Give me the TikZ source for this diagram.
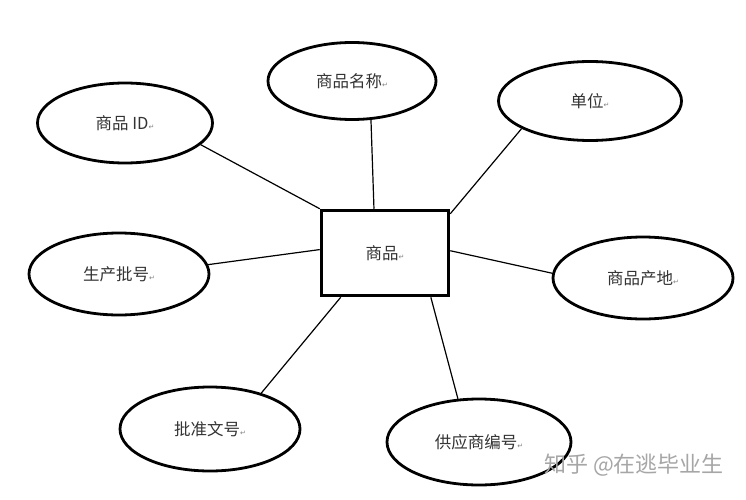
\documentclass[tikz,border=0pt]{standalone}
\usepackage{fontspec}
\setmainfont{Noto Sans CJK SC}
\newfontfamily\dejavu{DejaVu Sans}
\usetikzlibrary{shapes.geometric}
\newcommand\retmark{{\dejavu\fontsize{7}{7}\selectfont\color{gray}↵}}
\begin{document}
\begin{tikzpicture}[x=1pt,y=-1pt,
  attr/.style={ellipse,draw,line width=2.8pt,inner sep=0pt,font=\fontsize{16.5}{19}\selectfont,text=black!80},
  ent/.style={rectangle,draw,line width=3.5pt,minimum width=127pt,minimum height=85pt,inner sep=0pt,font=\fontsize{16.5}{19}\selectfont,text=black!80},
  conn/.style={line width=1.2pt}]
\useasboundingbox (0,0) rectangle (746,500);
\fill[white] (0,0) rectangle (746,500);
\node[ent] (g) at (385,253) {商品\retmark};
\node[attr,minimum width=168pt,minimum height=77pt] (name) at (352,81) {商品名称\retmark};
\node[attr,minimum width=183pt,minimum height=79pt] (unit) at (590,101) {单位\retmark};
\node[attr,minimum width=175pt,minimum height=80pt] (id) at (125,123) {商品 ID\retmark};
\node[attr,minimum width=180pt,minimum height=82pt] (batch) at (119,274) {生产批号\retmark};
\node[attr,minimum width=180pt,minimum height=82pt] (origin) at (643,278) {商品产地\retmark};
\node[attr,minimum width=180pt,minimum height=84pt] (appr) at (210,429) {批准文号\retmark};
\node[attr,minimum width=184pt,minimum height=86pt] (supp) at (479,442) {供应商编号\retmark};
\draw[conn] (name.-64.6) -- (g.104);
\draw[conn] (unit.-158.6) -- (g.31);
\draw[conn] (id.-16) -- (g.north west);
\draw[conn] (batch.6.3) -- (g.177);
\draw[conn] (origin.177.5) -- (g.2);
\draw[conn] (appr.35.4) -- (g.-135);
\draw[conn] (supp.116.6) -- (g.-44.7);
\node[font=\fontsize{22}{26}\selectfont,text=black!35] (wm) at (634,465) {知乎 @在逃毕业生};
\end{tikzpicture}
\end{document}
